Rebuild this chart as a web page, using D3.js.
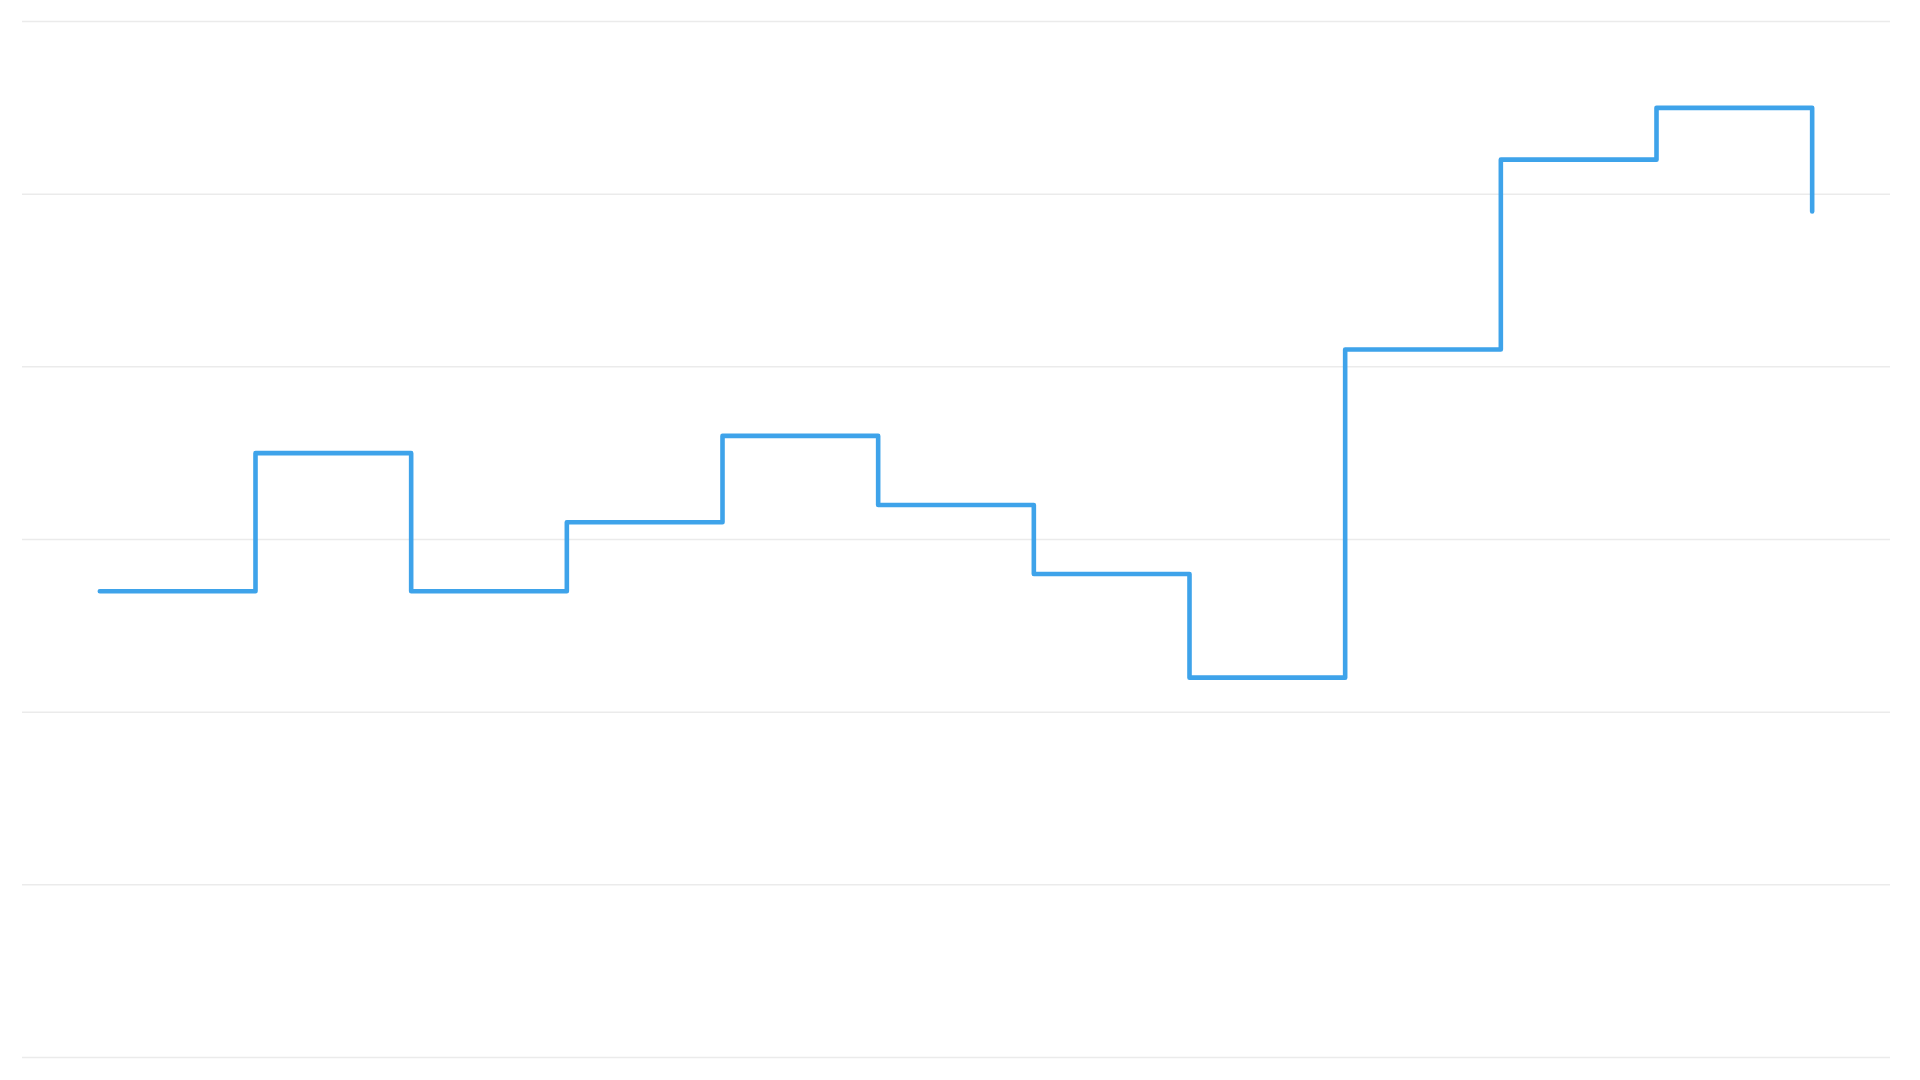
<!DOCTYPE html>
<html>
<head>
<meta charset="utf-8">
<script src="https://cdn.jsdelivr.net/npm/d3@7"></script>
<style>
  html, body { margin: 0; padding: 0; background: #fff; }
  svg { display: block; }
</style>
</head>
<body>
<svg id="chart"></svg>
<script>
// categories (no labels shown on the chart)
const categories = ["1","2","3","4","5","6","7","8","9","10","11","12"];
const values = [27, 35, 27, 31, 36, 32, 28, 22, 41, 52, 55, 49];
const yTicks = [0, 10, 20, 30, 40, 50, 60];

const ctx = {
  width: 1920,
  height: 1080,
  margin: { top: 21.5, right: 30, bottom: 22.5, left: 22 }
};

const svg = d3.select("#chart")
  .attr("width", ctx.width)
  .attr("height", ctx.height);

const xScale = d3.scaleBand()
  .domain(categories)
  .range([ctx.margin.left, ctx.width - ctx.margin.right]);

const yScale = d3.scaleLinear()
  .domain([0, 60])
  .range([ctx.height - ctx.margin.bottom, ctx.margin.top]);

// horizontal grid lines
svg.append("g")
  .selectAll("line")
  .data(yTicks)
  .enter()
  .append("line")
    .attr("x1", ctx.margin.left)
    .attr("x2", ctx.width - ctx.margin.right)
    .attr("y1", d => yScale(d))
    .attr("y2", d => yScale(d))
    .attr("stroke", "#ebebeb")
    .attr("stroke-width", 1.5);

const line = d3.line()
  .x((d, i) => xScale(categories[i]) + xScale.bandwidth() / 2)
  .y(d => yScale(d))
  .curve(d3.curveStepAfter);

svg.append("path")
  .datum(values)
  .attr("d", line)
  .attr("fill", "none")
  .attr("stroke", "#3ea3ea")
  .attr("stroke-width", 4.6)
  .attr("stroke-linejoin", "round")
  .attr("stroke-linecap", "round");
</script>
</body>
</html>
